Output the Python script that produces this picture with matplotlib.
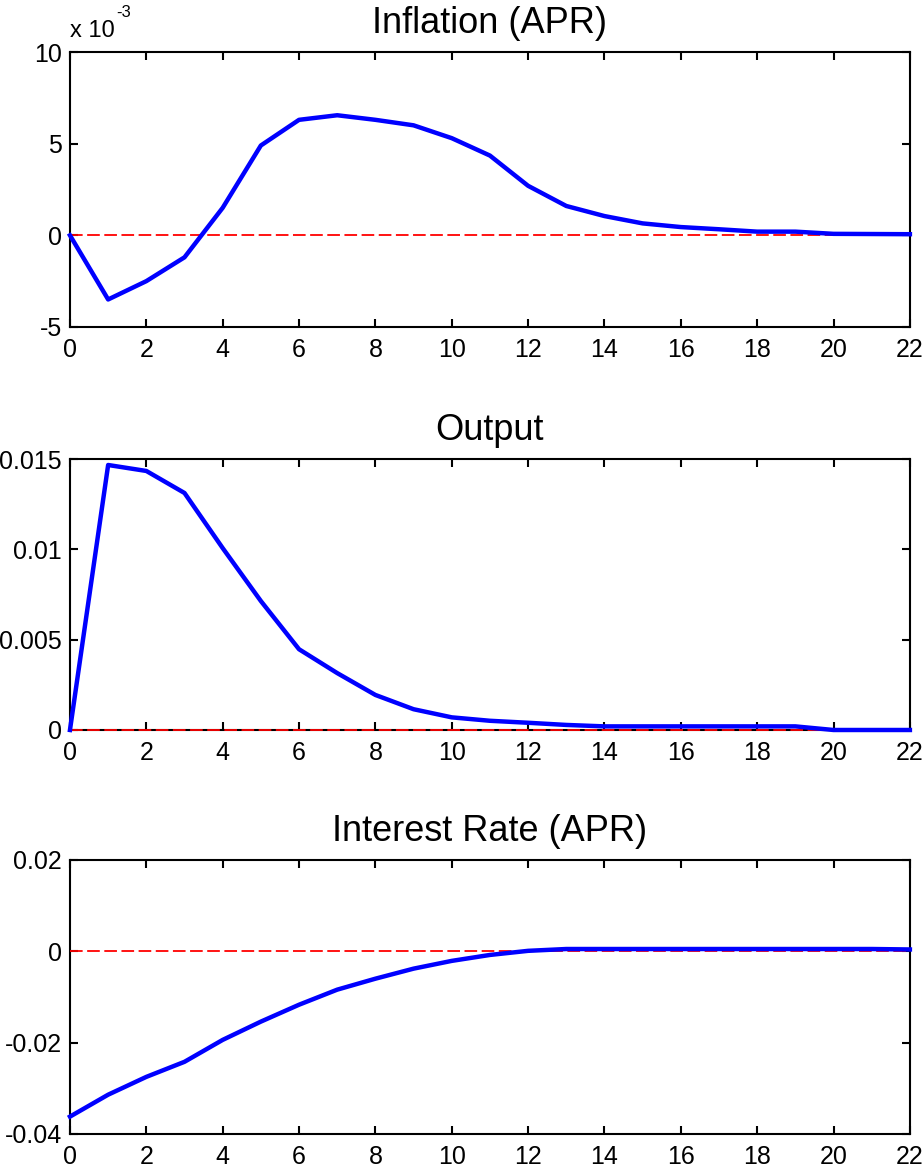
import numpy as np
import matplotlib
matplotlib.use('Agg')
import matplotlib.pyplot as plt

plt.rcParams['font.family'] = ['Liberation Sans', 'DejaVu Sans']

periods = np.arange(0, 23)

# inflation in units of 1e-3
inflation_e3 = [0.0, -3.5, -2.5, -1.2, 1.5, 4.9, 6.3, 6.55, 6.3, 6.0, 5.3, 4.35,
                2.7, 1.6, 1.05, 0.65, 0.45, 0.33, 0.2, 0.2, 0.08, 0.07, 0.06]
output = [0.0, 0.01467, 0.01434, 0.01312, 0.01007, 0.00714, 0.00447, 0.00315,
          0.00194, 0.00115, 0.0007, 0.00051, 0.0004, 0.00028, 0.0002, 0.0002,
          0.0002, 0.0002, 0.0002, 0.0002, 0.0, 0.0, 0.0]
interest = [-0.0362, -0.0314, -0.0275, -0.0242, -0.0194, -0.0154, -0.0117,
            -0.0084, -0.0060, -0.0038, -0.0021, -0.0008, 0.0001, 0.0005, 0.0005,
            0.0005, 0.0005, 0.0005, 0.0005, 0.0005, 0.0005, 0.0005, 0.0004]

titles = ['Inflation (APR)', 'Output', 'Interest Rate (APR)']
series = [inflation_e3, output, interest]
ylims = [(-5, 10), (0, 0.015), (-0.04, 0.02)]
yticks = [[-5, 0, 5, 10], [0, 0.005, 0.01, 0.015], [-0.04, -0.02, 0, 0.02]]
yticklabels = [['-5', '0', '5', '10'], ['0', '0.005', '0.01', '0.015'],
               ['-0.04', '-0.02', '0', '0.02']]
xticks = np.arange(0, 23, 2)

fig = plt.figure(figsize=(9.23, 11.74), dpi=100)
positions = [[0.0758, 0.7215, 0.910, 0.2342],
             [0.0758, 0.3782, 0.910, 0.2308],
             [0.0758, 0.0341, 0.910, 0.2334]]

for i in range(3):
    ax = fig.add_axes(positions[i])
    ax.plot(periods, np.zeros(len(periods)), color='r', lw=1.3,
            dashes=(7, 2.5), zorder=3, clip_on=False)
    ax.plot(periods, series[i], color='b', lw=3.2, zorder=4, clip_on=False)
    ax.set_xlim(0, 22)
    ax.set_ylim(*ylims[i])
    ax.set_xticks(xticks)
    ax.set_xticklabels([str(v) for v in xticks])
    ax.set_yticks(yticks[i])
    ax.set_yticklabels(yticklabels[i])
    ax.tick_params(direction='in', top=True, right=True, length=6, width=1.5,
                   labelsize=18)
    ax.tick_params(axis='x', pad=8)
    ax.tick_params(axis='y', pad=6)
    for s in ax.spines.values():
        s.set_linewidth(1.5)
        s.set_zorder(2.5)
    ax.set_title(titles[i], fontsize=26, pad=14)

ax0 = fig.axes[0]
ax0.text(0, 1.035, 'x 10', transform=ax0.transAxes, fontsize=17,
         ha='left', va='bottom')
ax0.text(0.0555, 1.115, '-3', transform=ax0.transAxes, fontsize=12,
         ha='left', va='bottom')

plt.savefig('out.png', dpi=100)
